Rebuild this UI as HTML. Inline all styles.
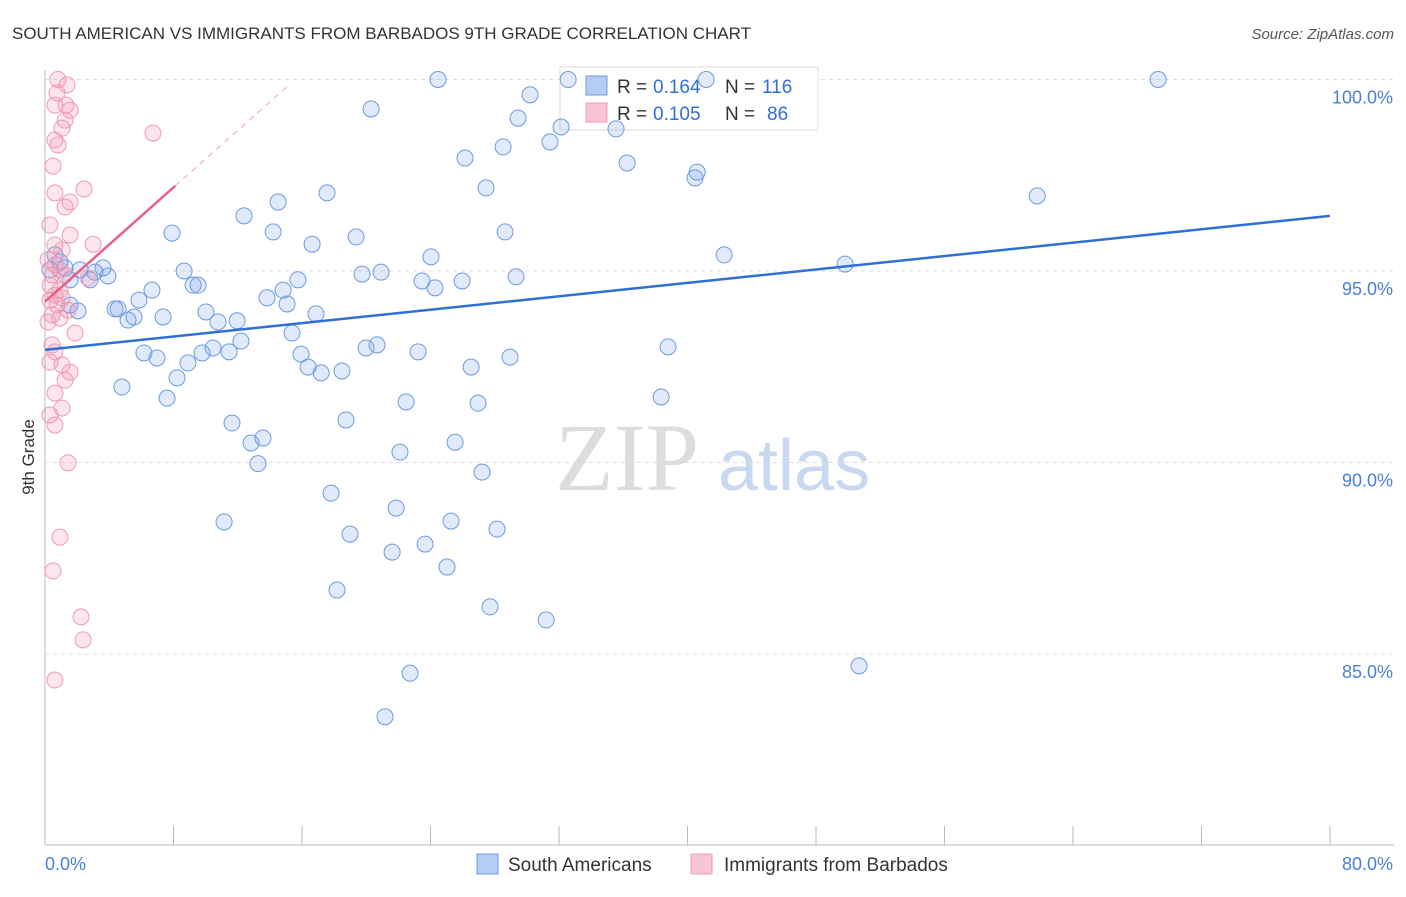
<!DOCTYPE html>
<html><head><meta charset="utf-8"><style>
body{margin:0;background:#fff;font-family:"Liberation Sans",sans-serif}
svg text{font-family:"Liberation Sans",sans-serif}
</style></head><body>
<svg id="c" width="1406" height="892">
<text x="12" y="39" font-size="17" fill="#333">SOUTH AMERICAN VS IMMIGRANTS FROM BARBADOS 9TH GRADE CORRELATION CHART</text>
<text x="1394" y="39" font-size="15" fill="#555" text-anchor="end" font-style="italic">Source: ZipAtlas.com</text>
<text x="34" y="457" font-size="17" fill="#333" text-anchor="middle" transform="rotate(-90 34 457)">9th Grade</text>
<g>
<text x="555" y="490" font-size="96" fill="#ddd" font-family="Liberation Serif" style="font-family:'Liberation Serif',serif">ZIP</text>
<text x="718" y="490" font-size="72" fill="#c8d8f0">atlas</text>
</g>
<g id="grid"></g>
<g>
<rect x="560" y="67" width="258" height="63" fill="#fff" stroke="#ddd"/>
<rect x="586" y="76" width="21" height="19" fill="#b5cdf3" stroke="#6b9be0"/>
<text x="617" y="93" font-size="19" fill="#333">R =</text>
<text x="653" y="93" font-size="19" fill="#2f6fd6">0.164</text>
<text x="725" y="93" font-size="19" fill="#333">N =</text>
<text x="762" y="93" font-size="19" fill="#2f6fd6">116</text>
<rect x="586" y="103" width="21" height="19" fill="#f9c4d4" stroke="#f09ab5"/>
<text x="617" y="120" font-size="19" fill="#333">R =</text>
<text x="653" y="120" font-size="19" fill="#2f6fd6">0.105</text>
<text x="725" y="120" font-size="19" fill="#333">N =</text>
<text x="767" y="120" font-size="19" fill="#2f6fd6">86</text>
</g>
<g id="pts"></g><g id="lines"></g>
<g>
<rect x="477" y="854" width="21" height="20" fill="#b5cdf3" stroke="#6b9be0"/>
<text x="508" y="871" font-size="19" fill="#333">South Americans</text>
<rect x="691" y="854" width="21" height="20" fill="#f9c4d4" stroke="#f09ab5"/>
<text x="724" y="871" font-size="19" fill="#333">Immigrants from Barbados</text>
</g>
</svg>
<script>
const yTicks=[85,90,95,100];
const xLabels=["0.0%","80.0%"];
const blueX=[24.47,32.57,41.16,69.3,20.3,30.2,29.45,32.13,35.55,28.52,31.44,26.15,36.24,40.47,40.6,27.46,17.56,61.77,14.51,12.39,7.91,14.2,28.64,16.63,19.37,24.03,42.28,49.81,8.66,19.74,20.92,15.75,23.47,25.97,24.28,29.33,9.22,9.53,14.82,13.82,15.07,5.85,6.66,4.36,4.55,5.17,5.54,7.35,10.02,10.77,11.96,16.87,15.38,12.2,10.46,11.46,19.99,20.67,23.23,38.79,6.16,6.97,8.9,9.78,15.94,16.38,17.19,18.49,26.53,28.95,8.22,4.79,7.6,22.48,26.96,38.36,11.64,18.74,13.57,12.83,25.53,22.1,13.26,27.21,17.81,21.86,11.15,18.99,25.28,28.14,21.61,23.66,25.03,18.18,27.71,31.2,50.68,22.73,21.17,0.62,1.25,2.18,3.11,3.61,3.92,2.8,1.56,2.05,1.56,0.93,0.31];
const blueY=[100,100,100,100,99.23,99.6,98.99,98.76,98.71,98.24,98.37,97.95,97.82,97.43,97.58,97.17,97.04,96.96,96.8,96.44,95.99,96.02,96.02,95.7,95.89,95.37,95.42,95.18,95.0,94.92,94.97,94.77,94.74,94.74,94.56,94.85,94.63,94.63,94.5,94.3,94.14,94.24,94.5,94.01,94.01,93.72,93.8,93.8,93.93,93.67,93.7,93.88,93.38,93.17,92.99,92.89,92.99,93.07,92.89,93.02,92.86,92.73,92.6,92.86,92.83,92.49,92.34,92.39,92.49,92.75,92.21,91.97,91.68,91.58,91.55,91.71,91.03,91.11,90.64,90.51,90.53,90.27,89.97,89.75,89.2,88.81,88.45,88.13,88.47,88.26,87.66,87.87,87.27,86.67,86.23,85.89,84.69,84.5,83.36,95.42,95.08,95.03,94.97,95.08,94.87,94.77,94.77,93.96,94.11,95.24,95.03];
const pinkX=[0.81,1.37,0.75,1.56,0.62,1.31,1.25,1.06,0.62,0.81,6.72,0.5,2.43,0.62,1.56,1.25,0.31,1.56,2.99,0.62,1.06,0.19,0.62,0.93,0.44,1.25,2.68,0.31,0.93,0.62,1.06,0.31,0.75,1.43,0.44,0.93,0.19,1.87,0.44,0.62,0.31,1.06,1.56,1.25,0.62,1.06,0.31,0.62,1.43,0.93,0.5,2.24,2.37,0.62];
const pinkY=[100,99.86,99.65,99.2,99.33,99.33,98.94,98.73,98.42,98.29,98.6,97.74,97.14,97.04,96.8,96.67,96.2,95.94,95.7,95.68,95.55,95.29,95.16,95.03,94.9,94.9,94.82,94.63,94.5,94.37,94.3,94.24,94.11,93.98,93.85,93.77,93.67,93.38,93.07,92.89,92.62,92.55,92.36,92.15,91.81,91.42,91.24,90.98,89.99,88.05,87.17,85.97,85.37,84.32];
const blueLine=[[0,92.94],[80,96.44]];
const pinkLine=[[0,94.2],[8.1,97.22]];
const pinkDash=[[8.1,97.22],[15.25,99.88]];
const X=v=>45+v/80*1285, Y=v=>79.5+(100-v)*38.3;
const NS="http://www.w3.org/2000/svg";
function mk(t,a,p){const e=document.createElementNS(NS,t);for(const k in a)e.setAttribute(k,a[k]);p.appendChild(e);return e;}
const g=document.getElementById('grid');
yTicks.forEach(t=>{
 const l=mk('line',{x1:45,x2:1394,y1:Y(t),y2:Y(t),stroke:'#ddd','stroke-dasharray':'4,4'},g);
 
 
 const tx=mk('text',{x:1393,y:Y(t)+24,'font-size':18,fill:'#4a7fd8','text-anchor':'end'},g);tx.textContent=t.toFixed(1)+'%';
 
 
});
mk('line',{x1:45,x2:45,y1:70,y2:845,stroke:'#bbb'},g);
mk('line',{x1:45,x2:1394,y1:845,y2:845,stroke:'#bbb'},g);
for(let i=0;i<=10;i++){const x=X(i*8);const t=mk('line',{x1:x,x2:x,y1:826,y2:845,stroke:'#bbb'},g);
 
 }
const a=mk('text',{x:45,y:870,'font-size':18,fill:'#4a7fd8'},g);a.textContent=xLabels[0];


const b=mk('text',{x:1393,y:870,'font-size':18,fill:'#4a7fd8','text-anchor':'end'},g);b.textContent=xLabels[1];


const p=document.getElementById('pts');
blueX.forEach((v,i)=>{const c=mk('circle',{cx:X(v),cy:Y(blueY[i]),r:8,fill:'rgba(120,160,230,0.22)',stroke:'#6b9be0','stroke-width':1},p);
 
 });
pinkX.forEach((v,i)=>{const c=mk('circle',{cx:X(v),cy:Y(pinkY[i]),r:8,fill:'rgba(240,140,170,0.22)',stroke:'#f09ab5','stroke-width':1},p);
 
 });
const L=document.getElementById('lines');
const bl=mk('line',{x1:X(blueLine[0][0]),y1:Y(blueLine[0][1]),x2:X(blueLine[1][0]),y2:Y(blueLine[1][1]),stroke:'#2f6fd6','stroke-width':2.5},L);


const pl=mk('line',{x1:X(pinkLine[0][0]),y1:Y(pinkLine[0][1]),x2:X(pinkLine[1][0]),y2:Y(pinkLine[1][1]),stroke:'#e8608a','stroke-width':2.5},L);


const pd=mk('line',{x1:X(pinkDash[0][0]),y1:Y(pinkDash[0][1]),x2:X(pinkDash[1][0]),y2:Y(pinkDash[1][1]),stroke:'#f0a0b8','stroke-width':1,'stroke-dasharray':'6,5'},L);


</script>
</body></html>
